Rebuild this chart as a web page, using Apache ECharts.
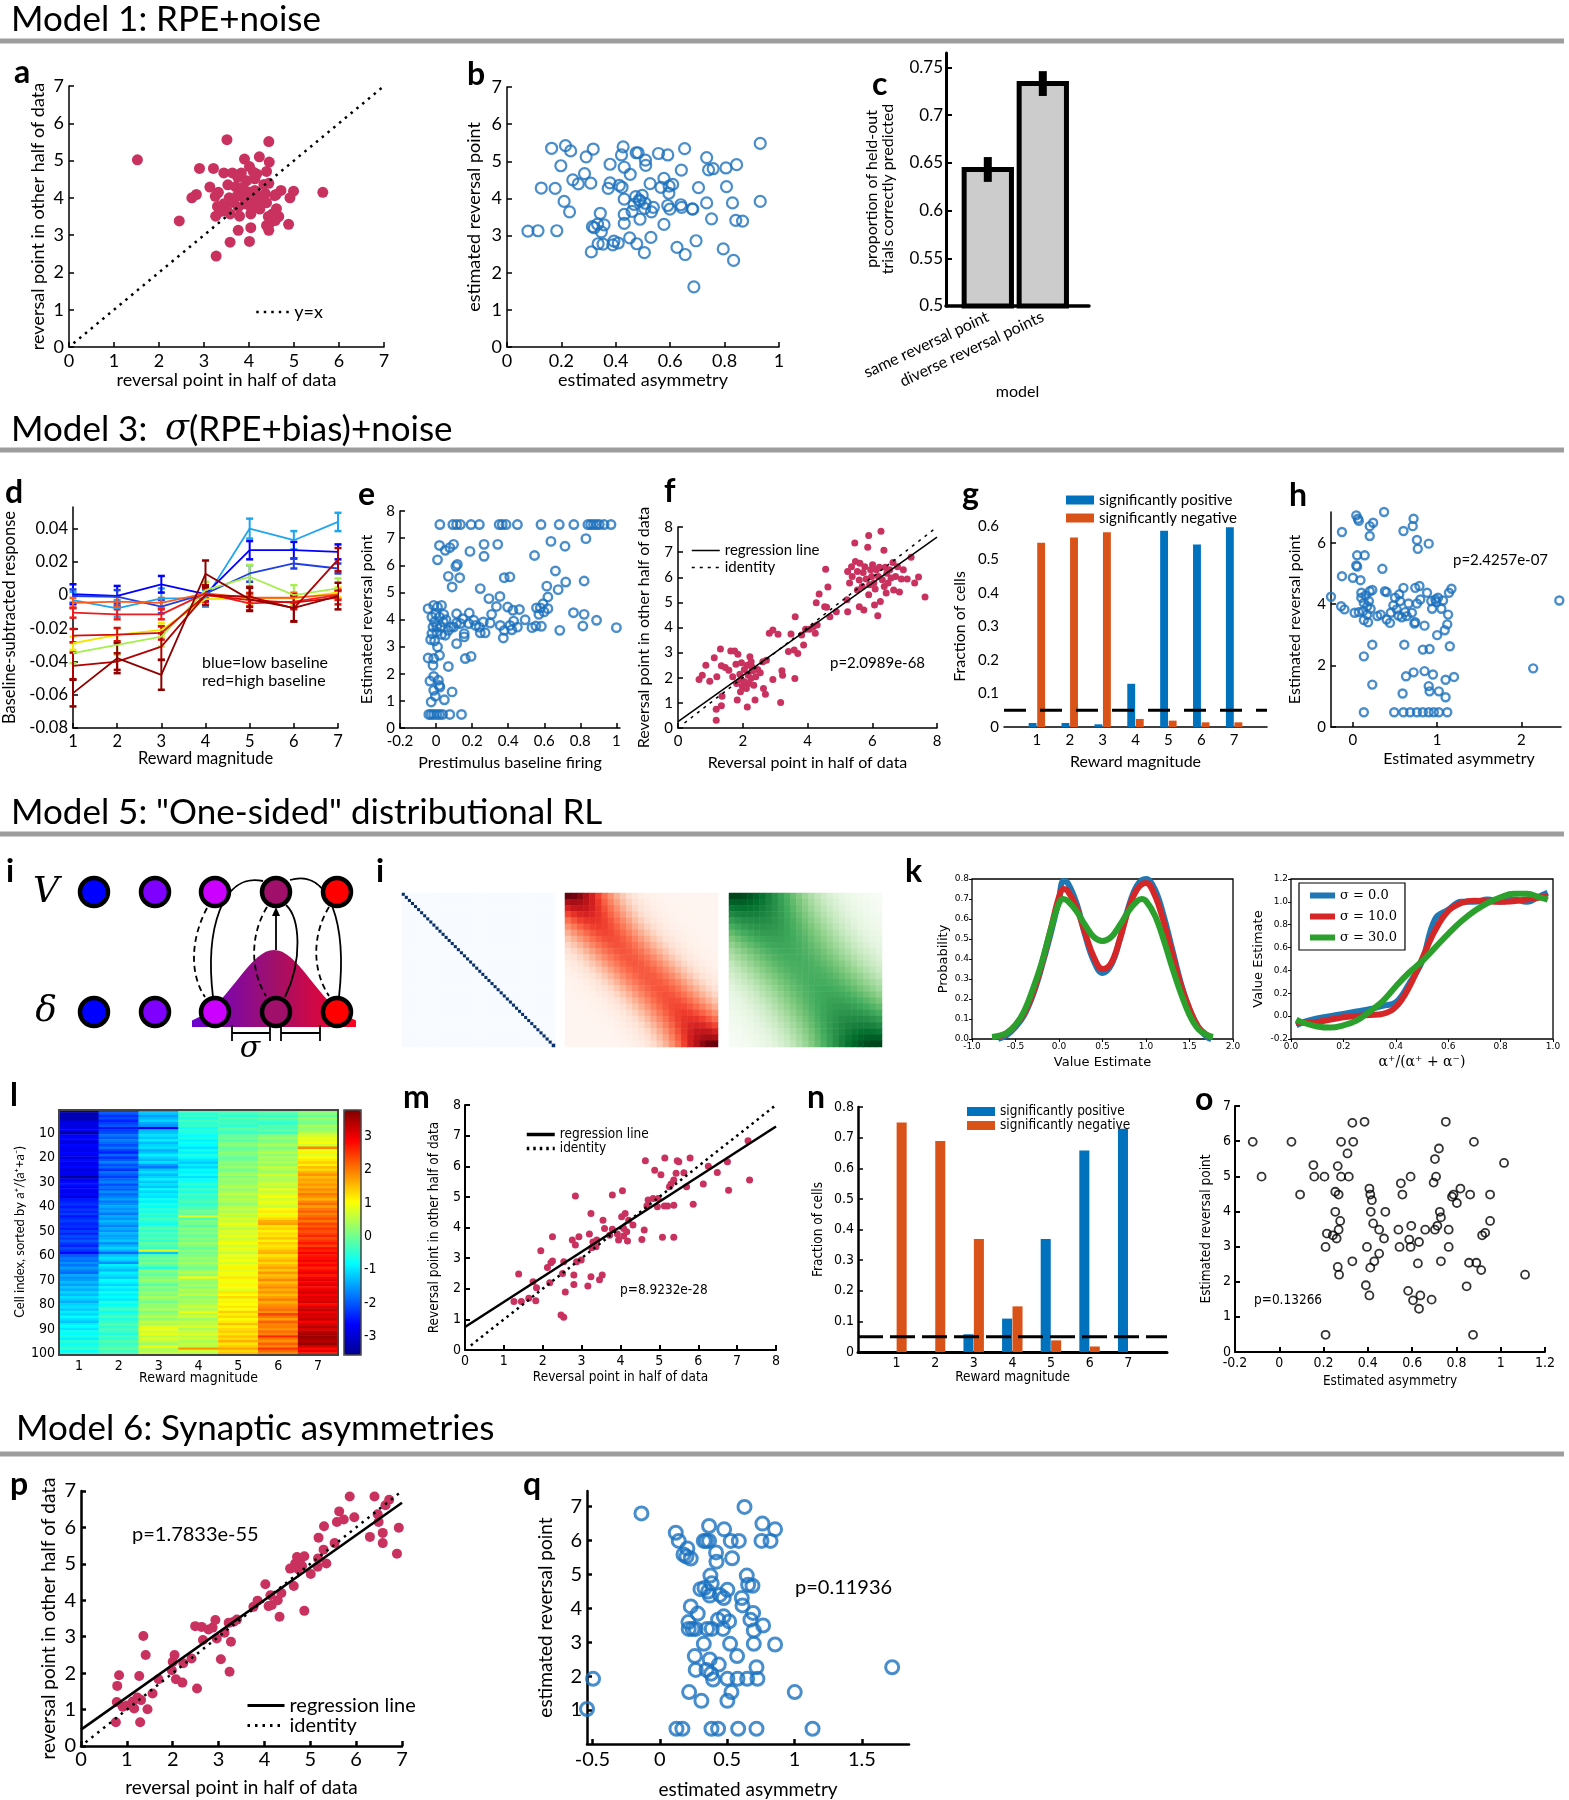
<!DOCTYPE html>
<html>
<head>
<meta charset="utf-8">
<title>Figure</title>
<script src="https://cdn.jsdelivr.net/npm/echarts@6.0.0/dist/echarts.min.js"></script>
<style>
html,body{margin:0;padding:0;background:#ffffff;}
#chart{width:1569px;height:1800px;}
</style>
</head>
<body>
<div id="chart"></div>
<script>
// ================= DATA =================
// Panel a
const aPoints = [[1.52,5.02],[3.51,5.56],[4.44,5.51],[3.90,5.04],[4.23,5.10],[4.45,4.96],[4.01,4.84],[2.90,4.79],[3.21,4.79],[3.44,4.67],[3.63,4.67],[3.83,4.67],[3.75,4.55],[4.17,4.64],[4.39,4.71],[3.13,4.29],[3.53,4.35],[3.32,4.15],[3.70,4.30],[3.95,4.46],[4.13,4.51],[4.33,4.36],[4.44,4.39],[2.73,4.00],[2.83,4.09],[3.25,4.04],[3.87,4.29],[4.01,4.15],[3.81,4.13],[4.13,4.20],[4.36,4.12],[4.60,4.09],[4.71,4.20],[4.99,4.18],[5.64,4.15],[4.91,4.00],[4.57,4.06],[3.56,4.00],[3.65,3.88],[3.44,3.84],[3.30,3.77],[3.91,3.84],[4.04,3.86],[4.24,3.82],[4.39,3.87],[3.76,3.75],[4.04,3.75],[4.24,3.70],[3.58,3.57],[3.26,3.51],[3.79,3.51],[4.04,3.57],[4.61,3.71],[4.52,3.57],[4.66,3.50],[4.43,3.50],[4.58,3.39],[4.45,3.30],[4.39,3.26],[4.88,3.29],[2.45,3.38],[4.44,3.13],[4.04,3.20],[3.76,3.13],[3.58,2.81],[4.01,2.83],[3.27,2.44],[3.50,3.71],[3.39,3.64],[3.87,4.02],[3.94,3.95],[4.17,3.97],[4.31,4.02],[3.73,4.04],[4.10,4.69]];
const aIdentity = [[0.1,0.1],[7,7]];
// Panel b
const bPoints = [[0.077,3.12],[0.114,3.13],[0.183,3.13],[0.126,4.28],[0.177,4.27],[0.164,5.35],[0.215,5.42],[0.234,5.28],[0.198,4.88],[0.210,3.92],[0.230,3.64],[0.242,4.50],[0.262,4.39],[0.285,4.67],[0.308,4.41],[0.291,5.12],[0.317,5.33],[0.310,2.56],[0.314,3.24],[0.321,3.21],[0.347,3.10],[0.333,3.31],[0.343,3.60],[0.357,3.29],[0.335,2.78],[0.353,2.77],[0.372,4.27],[0.379,4.42],[0.379,4.92],[0.393,2.85],[0.389,2.75],[0.409,2.80],[0.413,4.35],[0.423,4.30],[0.421,5.17],[0.427,5.39],[0.431,4.84],[0.431,3.98],[0.431,3.57],[0.431,3.33],[0.453,4.65],[0.451,2.94],[0.460,3.65],[0.467,3.84],[0.475,5.23],[0.482,5.23],[0.473,4.05],[0.477,2.78],[0.486,3.96],[0.489,3.44],[0.497,4.08],[0.489,3.93],[0.508,3.87],[0.509,5.03],[0.510,4.89],[0.505,2.54],[0.506,3.73],[0.526,4.40],[0.529,2.95],[0.531,3.64],[0.538,3.76],[0.557,5.21],[0.566,4.30],[0.577,4.54],[0.577,3.30],[0.591,5.17],[0.596,4.33],[0.595,4.14],[0.591,3.81],[0.599,3.71],[0.609,4.38],[0.625,2.68],[0.641,4.76],[0.639,3.83],[0.642,3.76],[0.653,5.34],[0.655,2.49],[0.681,3.72],[0.683,3.71],[0.687,1.62],[0.695,2.86],[0.704,4.29],[0.734,5.10],[0.734,3.88],[0.741,4.77],[0.752,3.45],[0.758,4.80],[0.795,2.64],[0.805,4.82],[0.807,4.32],[0.829,3.88],[0.833,2.33],[0.841,3.41],[0.844,4.91],[0.866,3.39],[0.931,5.48],[0.931,3.92]];
// Panel c
const cModels = ['same reversal point', 'diverse reversal points'];
const cMeans = [0.643, 0.733];
const cErr = [0.013, 0.013];
const cTicks = [0.5, 0.55, 0.6, 0.65, 0.7, 0.75];
// Panel d
const dRewards = [1, 2, 3, 4, 5, 6, 7];
const dMeans = [
  [-0.003,-0.008,-0.002,-0.002,0.040,0.033,0.044],
  [0.0005,-0.0005,0.0065,0.0005,0.027,0.027,0.026],
  [-0.0006,-0.001,-0.007,0.0008,0.013,0.019,0.016],
  [-0.035,-0.030,-0.025,0.003,0.011,0.000,0.004],
  [-0.029,-0.024,-0.021,-0.0025,-0.002,-0.002,0.0016],
  [-0.0047,-0.004,-0.0047,0.001,-0.0016,-0.0016,0.0004],
  [-0.0106,-0.0116,-0.0116,0.001,-0.005,-0.004,0.0],
  [-0.0244,-0.0238,-0.0228,0.0,-0.003,-0.0045,-0.0016],
  [-0.0426,-0.040,-0.031,0.0,-0.001,-0.008,0.0213],
  [-0.059,-0.038,-0.048,0.0128,-0.0026,-0.0077,-0.0006]
];
const dErrs = [
  [0.005,0.005,0.006,0.005,0.006,0.0055,0.0055],
  [0.006,0.006,0.005,0.004,0.0055,0.005,0.0045],
  [0.004,0.004,0.004,0.003,0.005,0.003,0.003],
  [0.006,0.006,0.006,0.005,0.007,0.006,0.006],
  [0.004,0.004,0.004,0.003,0.003,0.003,0.003],
  [0.003,0.003,0.003,0.003,0.003,0.003,0.003],
  [0.003,0.003,0.003,0.003,0.004,0.004,0.003],
  [0.004,0.004,0.004,0.004,0.004,0.004,0.004],
  [0.008,0.005,0.008,0.006,0.006,0.008,0.007],
  [0.008,0.009,0.009,0.008,0.007,0.008,0.008]
];
const dTicks = [-0.08,-0.06,-0.04,-0.02,0,0.02,0.04];
// Panel e
const ePoints = [[0.021,7.5],[0.093,7.5],[0.114,7.5],[0.135,7.5],[0.194,7.5],[0.240,7.5],[0.350,7.5],[0.367,7.5],[0.388,7.5],[0.451,7.5],[0.582,7.5],[0.683,7.5],[0.764,7.5],[0.842,7.5],[0.857,7.5],[0.873,7.5],[0.890,7.5],[0.905,7.5],[0.932,7.5],[0.970,7.5],[1.027,7.5],[-0.040,0.5],[-0.027,0.5],[-0.013,0.5],[0.004,0.5],[0.019,0.5],[0.036,0.5],[0.076,0.5],[0.141,0.5],[0.019,6.73],[0.008,6.20],[0.051,6.55],[0.076,6.65],[0.097,6.77],[0.110,5.96],[0.118,6.03],[0.068,5.59],[0.089,5.20],[0.131,5.54],[0.188,6.51],[0.266,6.77],[0.266,6.33],[0.342,6.77],[0.546,6.36],[0.637,6.88],[0.715,6.70],[0.831,6.98],[0.662,5.79],[0.719,5.38],[0.378,5.54],[0.409,5.57],[0.245,5.14],[0.293,4.77],[0.354,4.85],[0.335,4.48],[0.397,4.46],[0.426,4.34],[0.462,4.37],[0.614,5.23],[0.620,4.83],[0.677,5.10],[0.821,5.42],[1.021,5.83],[0.762,4.25],[0.821,4.19],[0.890,3.97],[0.814,3.76],[1.000,3.70],[0.686,3.60],[0.557,4.43],[0.578,4.43],[0.599,4.28],[0.620,4.40],[0.593,4.58],[0.570,4.19],[0.584,3.75],[0.532,3.70],[0.553,3.76],[0.494,3.99],[0.430,3.94],[0.409,3.78],[0.378,3.60],[0.373,3.32],[0.356,3.78],[0.420,3.62],[0.451,3.72],[0.308,4.19],[0.300,3.87],[0.262,3.91],[0.240,3.72],[0.219,3.78],[0.245,3.51],[0.272,3.51],[0.209,3.97],[0.181,3.85],[0.148,4.03],[0.135,3.85],[0.114,3.87],[0.097,3.72],[0.114,4.21],[0.184,4.24],[0.156,3.48],[0.156,3.36],[0.162,2.56],[0.194,2.64],[0.114,3.11],[0.068,3.60],[0.082,3.72],[0.051,3.42],[0.004,3.75],[-0.017,3.72],[-0.044,4.40],[-0.023,4.09],[-0.013,4.52],[0.008,4.46],[0.030,4.52],[-0.002,4.21],[0.019,4.09],[0.040,3.91],[-0.008,3.91],[0.025,3.72],[-0.023,3.48],[0.004,3.54],[0.030,3.45],[-0.030,3.26],[-0.008,3.21],[0.008,2.99],[-0.044,2.58],[-0.013,2.56],[0.019,2.68],[-0.017,2.31],[0.068,2.27],[-0.034,1.73],[-0.013,1.90],[0.013,1.76],[0.021,1.51],[-0.013,1.39],[-0.004,1.17],[-0.027,0.96],[0.046,1.04],[0.089,1.33],[0.017,1.57],[0.042,4.19],[0.055,3.99]];
const eXTicks = [-0.2,0,0.2,0.4,0.6,0.8,1];
// Panel f
const fPoints = [[0.65,1.93],[0.75,2.10],[0.86,2.50],[0.98,1.86],[1.12,2.80],[1.20,2.04],[1.18,0.31],[1.18,0.75],[1.31,3.14],[1.34,2.48],[1.36,1.26],[1.34,0.89],[1.46,2.41],[1.57,2.30],[1.63,3.06],[1.69,2.04],[1.75,3.06],[1.83,1.11],[1.85,2.94],[1.79,2.54],[1.91,2.14],[1.95,1.93],[1.99,1.66],[2.05,2.33],[2.07,1.64],[2.14,0.84],[2.17,2.10],[2.22,2.84],[2.26,2.64],[2.28,2.44],[2.31,2.28],[2.25,1.97],[2.19,1.77],[2.34,1.70],[2.38,1.11],[2.40,2.04],[2.46,2.33],[2.54,2.20],[2.64,1.57],[2.70,1.34],[2.62,2.64],[2.73,2.70],[2.11,1.57],[2.05,1.84],[1.93,1.44],[1.81,1.77],[2.14,2.50],[1.96,2.60],[3.17,1.01],[2.93,1.93],[3.21,2.28],[3.23,2.10],[3.61,1.97],[2.82,3.77],[2.93,3.90],[3.09,3.73],[3.41,3.04],[3.49,3.74],[3.59,3.10],[3.62,4.43],[3.70,2.97],[3.82,3.70],[3.88,3.30],[3.94,3.93],[4.06,3.93],[4.18,4.03],[4.24,3.77],[4.30,4.10],[4.36,5.33],[4.27,4.99],[4.53,4.83],[4.56,6.32],[4.63,5.61],[4.59,4.81],[4.69,4.43],[4.89,4.63],[5.22,5.10],[5.24,4.63],[5.24,6.23],[5.30,5.77],[5.36,6.42],[5.38,6.03],[5.46,7.36],[5.48,6.63],[5.54,5.49],[5.54,6.23],[5.60,5.89],[5.62,6.56],[5.69,5.63],[5.72,6.19],[5.74,4.70],[5.77,6.42],[5.81,5.93],[5.86,7.19],[5.89,7.66],[5.92,5.70],[5.95,6.30],[5.98,6.03],[6.01,6.50],[6.05,5.77],[6.09,5.53],[6.13,6.30],[6.17,4.47],[6.19,6.03],[6.22,6.40],[6.25,5.03],[6.27,7.83],[6.31,5.90],[6.36,7.07],[6.37,5.63],[6.40,6.40],[6.43,5.37],[6.45,6.16],[6.49,5.77],[6.54,6.30],[6.58,5.97],[6.64,6.59],[6.66,5.49],[6.72,6.03],[6.84,5.41],[6.90,5.93],[7.08,5.93],[7.20,6.80],[7.31,5.77],[7.43,6.01],[7.63,5.21],[6.96,6.30],[6.78,6.42],[6.07,4.90],[5.60,4.83],[5.89,5.30]];
const fRegression = [[0,0.25],[8,7.6]];
const fIdentity = [[0.2,0.2],[7.9,7.9]];
// Panel g
const gRewards = [1,2,3,4,5,6,7];
const gPositive = [0.012,0.012,0.008,0.129,0.586,0.545,0.596];
const gNegative = [0.550,0.566,0.581,0.024,0.019,0.014,0.014];
const gThreshold = [[0,0.05],[8,0.05]];
// Panel h
const hPoints = [[-0.26,4.24],[-0.13,4.91],[-0.14,3.93],[-0.10,3.83],[-0.13,6.35],[0.00,4.86],[0.04,6.89],[0.06,6.78],[0.07,6.71],[0.05,5.59],[0.04,5.26],[0.05,5.22],[0.09,4.78],[0.14,5.59],[0.10,4.37],[0.10,4.21],[0.02,3.72],[0.07,3.74],[0.12,3.77],[0.13,4.04],[0.17,3.93],[0.19,4.10],[0.15,4.28],[0.20,4.42],[0.23,4.46],[0.17,3.66],[0.13,3.48],[0.18,3.41],[0.21,3.85],[0.20,6.54],[0.24,6.65],[0.20,6.22],[0.13,2.30],[0.23,2.68],[0.23,1.38],[0.13,0.48],[0.29,3.61],[0.35,5.15],[0.37,7.00],[0.38,4.42],[0.40,4.39],[0.33,3.66],[0.40,3.50],[0.44,3.39],[0.45,3.72],[0.48,3.96],[0.50,4.21],[0.49,0.48],[0.52,3.83],[0.54,3.63],[0.56,4.10],[0.55,4.32],[0.58,3.57],[0.60,4.53],[0.60,6.38],[0.62,3.74],[0.64,3.61],[0.61,2.68],[0.63,1.65],[0.59,1.09],[0.60,0.48],[0.66,4.02],[0.68,0.48],[0.70,3.72],[0.71,6.54],[0.72,6.78],[0.74,3.41],[0.73,3.37],[0.74,4.53],[0.76,6.09],[0.77,5.80],[0.76,4.02],[0.72,1.78],[0.76,0.48],[0.79,4.59],[0.80,4.15],[0.83,2.52],[0.85,3.30],[0.85,1.82],[0.83,0.48],[0.88,4.37],[0.90,5.97],[0.91,2.54],[0.93,4.10],[0.94,3.85],[0.90,1.33],[0.91,1.16],[0.95,1.71],[0.90,0.48],[0.98,4.15],[0.99,4.07],[1.01,4.21],[1.00,2.99],[1.02,1.16],[0.96,0.48],[1.02,0.48],[1.05,3.85],[1.07,4.12],[1.09,3.15],[1.10,0.97],[1.10,1.54],[1.12,0.48],[1.12,3.34],[1.13,3.66],[1.14,4.37],[1.17,4.50],[1.15,2.63],[1.20,1.63],[2.14,1.91],[2.45,4.12]];
// Panel j (kernel profiles by distance from the diagonal)
const jBluesProfile = [1,0,0,0,0,0,0,0,0,0,0,0,0,0,0,0,0,0,0,0,0,0,0,0,0,0,0,0,0,0,0,0,0,0,0,0,0,0,0,0,0,0,0,0,0,0,0,0,0,0];
const jRedsProfile = [1,0.98,0.923,0.835,0.726,0.607,0.487,0.375,0.278,0.198,0.135,0.089,0.056,0.034,0.020,0.011,0.006,0.003,0.002,0.001,0,0,0,0,0];
const jGreensProfile = [1,0.994,0.976,0.946,0.906,0.857,0.801,0.739,0.673,0.607,0.540,0.474,0.411,0.352,0.298,0.249,0.206,0.168,0.135,0.108,0.085,0.066,0.050,0.038,0.029];
// Panel k
const kSigmaNames = ['σ = 0.0', 'σ = 10.0', 'σ = 30.0'];
const k1Blue = [[-0.7,0.0],[-0.6,0.02],[-0.5,0.06],[-0.4,0.12],[-0.3,0.22],[-0.2,0.36],[-0.1,0.52],[0.0,0.70],[0.05,0.79],[0.1,0.78],[0.2,0.68],[0.3,0.52],[0.4,0.39],[0.5,0.33],[0.6,0.37],[0.7,0.50],[0.8,0.66],[0.9,0.77],[1.0,0.80],[1.1,0.75],[1.2,0.62],[1.3,0.45],[1.4,0.28],[1.5,0.15],[1.6,0.06],[1.7,0.01],[1.75,0.0]];
const k1Red = [[-0.7,0.01],[-0.6,0.03],[-0.5,0.07],[-0.4,0.13],[-0.3,0.23],[-0.2,0.37],[-0.1,0.54],[0.0,0.71],[0.05,0.75],[0.1,0.74],[0.2,0.66],[0.3,0.53],[0.4,0.41],[0.5,0.35],[0.6,0.38],[0.7,0.50],[0.8,0.65],[0.9,0.75],[1.0,0.78],[1.1,0.72],[1.2,0.59],[1.3,0.43],[1.4,0.27],[1.5,0.15],[1.6,0.06],[1.7,0.02],[1.75,0.01]];
const k1Green = [[-0.77,0.01],[-0.7,0.015],[-0.6,0.03],[-0.5,0.07],[-0.4,0.14],[-0.3,0.25],[-0.2,0.38],[-0.1,0.54],[0.0,0.68],[0.05,0.70],[0.1,0.69],[0.2,0.64],[0.3,0.57],[0.4,0.51],[0.5,0.49],[0.6,0.51],[0.7,0.57],[0.8,0.64],[0.9,0.69],[0.95,0.70],[1.0,0.69],[1.1,0.62],[1.2,0.50],[1.3,0.36],[1.4,0.23],[1.5,0.12],[1.6,0.05],[1.7,0.02],[1.77,0.01]];
const k2Blue = [[0.02,-0.08],[0.05,-0.05],[0.1,-0.02],[0.15,0.0],[0.2,0.02],[0.25,0.04],[0.3,0.06],[0.35,0.09],[0.4,0.12],[0.45,0.28],[0.5,0.48],[0.55,0.85],[0.6,0.93],[0.65,1.0],[0.7,1.0],[0.75,1.02],[0.8,1.0],[0.85,1.02],[0.9,1.0],[0.95,1.05],[0.98,1.08]];
const k2Red = [[0.02,-0.06],[0.1,-0.05],[0.2,-0.01],[0.3,0.01],[0.35,0.02],[0.4,0.08],[0.45,0.25],[0.5,0.5],[0.55,0.75],[0.6,0.92],[0.65,0.99],[0.7,1.01],[0.8,1.0],[0.9,1.02],[0.98,1.05]];
const k2Green = [[0.02,-0.03],[0.05,-0.06],[0.1,-0.09],[0.15,-0.1],[0.2,-0.08],[0.25,-0.04],[0.3,0.04],[0.35,0.13],[0.4,0.26],[0.45,0.38],[0.5,0.48],[0.55,0.6],[0.6,0.72],[0.65,0.83],[0.7,0.92],[0.75,0.99],[0.8,1.04],[0.85,1.07],[0.9,1.07],[0.95,1.04],[0.98,1.02]];
// Panel l (z-scored responses; rows = cells 1..100, columns = reward magnitude 1..7)
const lRewards = ['1','2','3','4','5','6','7'];
const lCol1 = [-3.3,-3.3,-3.2,-3.3,-3.1,-2.8,-2.9,-2.7,-2.8,-3.4,-2.7,-2.6,-2.8,-2.9,-2.6,-2.7,-2.8,-2.6,-2.7,-2.9,-2.6,-2.8,-2.7,-2.6,-2.9,-2.7,-2.8,-3.4,-2.8,-2.6,-2.5,-2.7,-2.6,-2.8,-2.6,-2.9,-2.5,-2.4,-2.3,-2.5,-2.3,-2.4,-2.2,-2.5,-2.3,-2.2,-2.4,-2.3,-2.5,-2.2,-2.4,-2.1,-2.3,-2.0,-2.2,-2.4,-2.1,-2.3,-2.6,-2.0,-1.8,-1.9,-1.6,-1.8,-1.5,-1.7,-1.9,-1.4,-1.6,-1.5,-1.3,-1.5,-1.2,-1.4,-1.1,-1.3,-1.0,-1.2,-1.4,-1.1,-1.0,-1.2,-0.9,-1.1,-0.8,-1.0,-1.2,-0.9,-0.8,-1.0,-0.7,-0.8,-0.6,-0.9,-0.5,-0.7,-0.6,-0.4,-0.8,-0.6];
const lCol2 = [-2.2,-2.0,-2.3,-2.1,-2.4,-2.2,-2.0,-2.5,-2.2,-2.1,-1.8,-2.0,-1.7,-1.9,-2.1,-1.8,-2.2,-2.4,-1.9,-2.3,-2.0,-1.7,-2.1,-1.9,-2.3,-1.8,-2.0,-2.2,-1.9,-1.7,-2.1,-1.8,-2.0,-1.6,-1.9,-1.7,-1.5,-1.8,-1.6,-1.4,-1.6,-1.5,-1.8,-1.4,-1.6,-1.3,-1.5,-1.7,-1.4,-1.6,-1.3,-1.5,-1.4,-1.2,-1.6,-1.3,-1.1,-1.4,-1.9,-1.2,-1.0,-1.2,-1.6,-0.9,-1.1,-1.3,-0.9,-1.0,-1.2,-0.8,-0.9,-1.1,-0.8,-1.0,-0.7,-0.9,-0.8,-1.0,-0.6,-0.8,-0.6,-0.4,-0.7,-0.5,-0.3,-0.6,-0.4,-0.2,-0.5,-0.3,-0.4,-0.6,-0.3,-0.5,-0.2,-0.4,-0.3,-0.1,-0.4,-0.3];
const lCol3 = [-1.4,-1.2,-1.5,-1.3,-1.1,-1.4,-1.6,-2.7,-1.3,-1.2,-1.0,-1.2,-0.9,-1.3,-1.1,-1.0,-1.4,-1.2,-0.9,-1.1,-1.3,-1.0,-1.5,-1.8,-1.2,-1.0,-1.3,-1.1,-0.9,-1.2,-1.0,-1.2,-0.8,-1.1,-0.9,-1.0,-0.7,-0.9,-0.6,-0.8,-0.5,-0.7,-0.4,-0.6,-0.3,-0.5,-0.7,-0.4,-0.2,-0.5,-0.3,-0.4,-0.2,-0.5,-0.1,-0.3,-0.4,0.9,-1.2,-0.2,0.0,-0.2,0.1,-0.1,-0.6,0.2,0.0,-0.1,0.1,0.3,0.1,-0.2,0.2,0.0,0.3,0.1,0.4,0.2,0.0,0.3,0.2,0.4,0.1,0.3,0.5,0.2,0.6,0.4,0.8,0.9,0.7,0.9,0.5,0.8,0.6,0.3,0.9,0.5,0.4,0.6];
const lCol4 = [-0.3,-0.5,-0.4,-0.6,-0.3,-0.5,-0.4,-0.7,-0.5,-0.6,-0.8,-0.6,-0.9,-0.7,-0.8,-1.0,-0.7,-0.9,-0.6,-0.8,-1.0,-1.2,-0.9,-1.1,-0.8,-0.9,-0.7,-1.0,-0.8,-0.6,-0.5,-0.7,-0.4,-0.6,-0.3,-0.5,-0.4,-0.2,-0.5,-0.3,-0.2,0.0,-0.1,0.8,-0.3,0.1,0.0,-0.2,0.2,0.0,0.1,-0.1,0.2,0.0,0.3,0.1,-0.1,0.2,0.0,0.1,0.3,0.1,0.4,0.2,0.0,0.3,0.5,0.2,0.9,0.3,0.2,0.4,0.1,0.5,0.3,0.6,0.2,0.4,0.3,0.5,0.6,0.4,0.9,0.5,0.7,0.3,0.6,0.5,0.8,0.4,0.6,0.8,0.5,0.7,0.4,0.6,0.5,1.8,0.7,0.5];
const lCol5 = [-0.4,-0.3,-0.5,-0.2,-0.4,-0.3,-0.5,-0.1,-0.3,-0.4,-0.1,0.0,-0.2,0.1,0.2,-0.1,0.0,0.2,0.1,-0.1,0.0,0.2,0.1,0.3,0.0,0.2,0.4,0.1,0.3,0.2,0.3,0.5,0.2,0.4,0.6,0.3,0.5,0.4,0.2,0.5,0.6,0.4,0.7,0.5,0.8,0.6,0.9,0.7,0.5,0.8,0.7,0.9,0.6,0.8,1.0,0.7,0.9,0.8,0.6,0.9,0.8,1.0,0.7,0.9,1.1,0.8,1.0,0.9,1.2,1.0,0.9,1.1,1.0,0.8,1.2,1.0,1.3,0.9,1.1,1.0,1.2,1.0,1.4,1.1,1.3,1.0,1.2,1.5,1.1,1.3,1.4,1.2,1.5,1.3,1.6,1.2,1.4,1.7,1.3,1.5];
const lCol6 = [-0.3,-0.2,-0.4,-0.1,-0.3,-0.5,-0.2,-0.3,-0.1,-0.4,0.1,0.3,0.0,0.2,0.4,0.1,0.3,0.5,0.2,0.4,0.3,0.5,0.2,0.6,0.4,0.3,0.7,0.5,0.4,0.6,0.7,0.5,0.9,0.6,0.8,1.0,0.7,0.9,0.8,0.6,1.0,1.2,0.9,1.1,1.3,1.6,1.7,1.2,1.4,1.1,1.3,1.2,1.5,1.1,1.4,1.2,1.3,1.5,1.6,1.2,1.4,1.6,1.3,1.5,1.7,1.4,1.8,1.5,1.6,1.9,1.5,1.7,1.9,1.6,1.8,1.5,1.7,2.0,1.6,1.8,1.9,2.1,1.8,2.4,2.0,1.7,2.2,1.9,2.0,1.8,2.1,1.9,2.6,2.0,1.8,2.2,1.9,2.5,2.1,1.9];
const lCol7 = [0.0,0.2,-0.1,0.3,0.1,0.0,0.4,0.2,0.3,0.5,0.7,0.9,0.8,1.0,0.7,1.9,0.9,1.1,0.8,1.0,1.2,1.4,1.1,1.5,1.3,1.6,1.8,1.5,1.7,1.6,1.8,1.6,1.9,1.7,2.0,1.8,1.6,1.9,2.1,1.7,2.0,2.2,1.9,2.1,2.3,2.0,2.4,2.2,2.5,2.3,2.4,2.6,2.3,2.5,2.7,2.4,2.8,2.6,2.9,2.7,2.8,3.0,2.7,2.9,2.6,2.8,3.0,2.7,2.9,3.1,2.9,3.1,2.8,3.0,3.2,2.9,3.1,3.0,3.2,2.8,3.1,3.3,3.0,3.2,3.1,3.3,2.9,3.2,3.4,3.1,3.3,3.5,3.6,3.5,3.4,3.6,3.2,2.8,3.0,2.7];
const lColumns = [lCol1, lCol2, lCol3, lCol4, lCol5, lCol6, lCol7];
const lRange = [-3.55, 3.78];
const lBarTicks = [-3,-2,-1,0,1,2,3];
// Panel m
const mPoints = [[1.26,1.58],[1.38,2.48],[1.45,1.58],[1.64,1.69],[1.75,2.23],[1.82,1.61],[1.84,2.03],[1.95,3.24],[2.12,2.69],[2.18,2.20],[2.25,3.70],[2.21,2.85],[2.25,2.91],[2.47,1.14],[2.54,1.07],[2.51,2.50],[2.54,2.88],[2.58,1.89],[2.76,3.59],[2.80,2.45],[2.80,2.14],[2.84,5.03],[2.84,3.43],[2.87,2.88],[2.93,3.70],[2.99,2.94],[3.16,2.09],[3.20,3.79],[3.24,4.46],[3.24,2.39],[3.26,3.34],[3.29,3.53],[3.37,3.37],[3.39,3.59],[3.46,2.29],[3.53,2.45],[3.55,4.24],[3.59,3.97],[3.72,3.75],[3.79,5.06],[3.79,3.94],[3.92,3.79],[3.95,3.59],[4.03,4.35],[4.05,5.20],[4.08,3.97],[4.08,3.72],[4.12,4.46],[4.16,3.86],[4.18,3.56],[4.21,4.24],[4.32,4.08],[4.55,3.61],[4.61,3.92],[4.64,6.18],[4.68,4.71],[4.84,4.95],[4.88,5.87],[4.95,4.68],[4.97,4.95],[5.04,5.72],[5.08,3.68],[5.13,4.70],[5.14,6.27],[5.21,4.70],[5.30,5.42],[5.37,3.68],[5.37,4.73],[5.37,5.55],[5.43,5.77],[5.46,6.18],[5.50,6.15],[5.63,5.79],[5.70,5.33],[5.79,6.27],[5.87,4.76],[6.13,5.42],[6.26,6.00],[6.49,5.80],[6.75,6.15],[6.78,5.22],[7.28,6.83],[7.32,5.55],[5.26,5.33],[4.71,4.90]];
const mRegression = [[0,0.75],[8,7.3]];
const mIdentity = [[0.15,0.15],[8,8]];
// Panel n
const nRewards = [1,2,3,4,5,6,7];
const nPositive = [0,0,0.058,0.109,0.369,0.658,0.729];
const nNegative = [0.749,0.689,0.369,0.149,0.038,0.018,0];
const nThreshold = [[0,0.05],[8,0.05]];
// Panel o
const oPoints = [[-0.12,5.98],[-0.08,4.99],[0.055,5.98],[0.094,4.48],[0.154,5.32],[0.158,4.99],[0.204,4.99],[0.209,2.99],[0.215,3.37],[0.209,0.49],[0.242,3.32],[0.253,3.99],[0.253,4.56],[0.259,3.23],[0.264,5.29],[0.268,4.48],[0.268,3.48],[0.264,2.42],[0.270,2.20],[0.275,3.73],[0.279,4.99],[0.279,5.98],[0.308,5.65],[0.314,4.99],[0.330,6.52],[0.334,5.98],[0.330,2.58],[0.385,6.55],[0.396,2.99],[0.391,1.90],[0.407,4.65],[0.411,4.48],[0.418,4.32],[0.413,3.99],[0.407,1.61],[0.411,2.40],[0.424,3.66],[0.429,2.58],[0.451,3.48],[0.451,2.80],[0.473,3.23],[0.479,3.99],[0.538,3.48],[0.543,2.99],[0.549,4.80],[0.556,4.48],[0.582,1.74],[0.587,3.20],[0.593,2.99],[0.593,4.99],[0.596,3.59],[0.604,1.47],[0.626,2.52],[0.631,1.23],[0.637,1.61],[0.631,3.13],[0.659,3.48],[0.688,1.49],[0.697,4.82],[0.703,5.49],[0.708,4.99],[0.703,3.48],[0.714,3.59],[0.721,5.79],[0.725,3.99],[0.730,3.83],[0.730,2.58],[0.752,6.55],[0.765,3.48],[0.765,2.99],[0.780,4.42],[0.787,4.48],[0.802,4.24],[0.818,4.65],[0.846,1.87],[0.857,2.54],[0.862,4.48],[0.879,5.98],[0.875,0.49],[0.890,2.54],[0.912,2.33],[0.916,3.32],[0.930,3.39],[0.952,4.48],[0.952,3.73],[1.015,5.38],[1.110,2.20]];
// Panel p
const pPoints = [[0.76,0.65],[0.78,1.21],[0.79,1.65],[0.83,1.94],[0.91,1.08],[1.00,1.11],[1.13,1.22],[1.16,1.03],[1.23,1.33],[1.27,1.92],[1.29,0.65],[1.31,1.26],[1.36,3.02],[1.41,2.50],[1.45,1.01],[1.56,1.44],[1.69,1.83],[1.98,2.08],[2.00,2.31],[2.04,2.50],[2.07,1.83],[2.21,1.74],[2.23,2.27],[2.41,2.40],[2.49,3.29],[2.53,1.58],[2.63,3.27],[2.66,2.91],[2.78,3.20],[2.87,3.25],[2.93,3.46],[2.96,2.95],[3.05,2.38],[3.13,3.11],[3.22,3.38],[3.24,2.04],[3.27,2.86],[3.33,3.41],[3.40,3.47],[3.76,3.82],[3.85,3.99],[4.02,4.44],[4.09,3.84],[4.13,4.14],[4.16,3.87],[4.29,4.00],[4.33,3.55],[4.37,4.20],[4.56,4.87],[4.64,4.39],[4.67,5.01],[4.71,5.19],[4.73,4.87],[4.77,5.05],[4.82,4.94],[4.87,5.21],[4.87,3.71],[5.01,4.72],[5.16,4.92],[5.17,5.15],[5.18,5.72],[5.29,5.39],[5.30,6.03],[5.35,5.01],[5.53,5.57],[5.58,6.15],[5.63,6.44],[5.73,6.22],[5.86,6.85],[5.96,6.28],[6.30,5.74],[6.40,6.85],[6.47,6.36],[6.49,6.15],[6.58,5.85],[6.58,5.57],[6.64,6.61],[6.72,6.76],[6.89,5.28],[6.93,5.99]];
const pRegression = [[0,0.45],[7,6.68]];
const pIdentity = [[0.1,0.1],[7,7]];
// Panel q
const qPoints = [[-0.136,6.79],[0.119,6.22],[0.141,5.98],[0.205,5.76],[0.176,5.58],[0.198,5.52],[0.230,5.46],[0.327,5.98],[0.344,5.98],[0.366,5.98],[0.366,6.42],[0.418,5.64],[0.421,5.37],[0.478,6.32],[0.527,5.98],[0.537,5.47],[0.587,5.98],[0.629,6.98],[0.762,6.49],[0.755,5.98],[0.822,5.98],[0.856,6.32],[0.376,4.96],[0.302,4.56],[0.332,4.59],[0.359,4.49],[0.386,4.73],[0.371,4.37],[0.446,4.39],[0.475,4.30],[0.502,4.54],[0.646,4.96],[0.656,4.69],[0.688,4.66],[0.609,4.30],[0.614,4.08],[0.230,4.05],[0.282,3.84],[0.213,3.59],[0.215,3.39],[0.243,3.39],[0.267,3.39],[0.351,3.39],[0.386,3.39],[0.470,3.39],[0.433,3.66],[0.475,3.76],[0.515,3.61],[0.693,3.86],[0.673,3.66],[0.698,3.34],[0.767,3.49],[0.327,2.95],[0.522,2.95],[0.698,2.95],[0.856,2.93],[0.260,2.59],[0.371,2.49],[0.574,2.59],[0.438,2.34],[0.267,2.18],[0.347,2.18],[0.381,2.07],[0.396,1.90],[0.502,1.92],[0.577,1.92],[0.649,1.92],[0.725,1.92],[0.718,2.26],[-0.495,1.92],[0.218,1.53],[0.532,1.53],[0.309,1.27],[0.502,1.27],[1.002,1.53],[1.725,2.26],[-0.540,1.03],[0.124,0.45],[0.168,0.45],[0.384,0.45],[0.433,0.45],[0.582,0.45],[0.718,0.45],[1.134,0.45]];
const qXTicks = [-0.5,0,0.5,1,1.5];
const qYTicks = [1,2,3,4,5,6,7];

// ================= STYLE =================
const FA = 'Lato, "Open Sans", sans-serif';
const FN = '"Liberation Sans Narrow","DejaVu Sans Condensed","Roboto Condensed","Liberation Sans",sans-serif';
const FK = '"DejaVu Sans", sans-serif';
const FS = '"DejaVu Serif","Liberation Serif",serif';
const PINK = '#c9315f';
const BLUE = '#1b70bd';
const MBLUE = '#0072bd';
const MORANGE = '#d95319';
const dColors = ['#1ea5f0','#0000ff','#1f3fe6','#a5ef4d','#f2e600','#ff5a1a','#ee1c1c','#d40d0d','#b30000','#8e0000'];
const JET = ['#00008f','#0000ff','#0080ff','#00ffff','#80ff80','#ffff00','#ff8000','#ff0000','#800000'];
const BLUES = ['#f7fbff','#deebf7','#c6dbef','#9ecae1','#6baed6','#4292c6','#2171b5','#08519c','#08306b'];
const REDS = ['#fff5f0','#fee0d2','#fcbba1','#fc9272','#fb6a4a','#ef3b2c','#cb181d','#a50f15','#67000d'];
const GREENS = ['#f7fcf5','#e5f5e0','#c7e9c0','#a1d99b','#74c476','#41ab5d','#238b45','#006d2c','#00441b'];

// ================= BUILDERS =================
const grids = [], xAxes = [], yAxes = [], series = [], visualMaps = [], legends = [], gfx = [];
function addGrid(l, t, w, h, xa, ya, extra) {
  const gi = grids.length;
  grids.push(Object.assign({left: l, top: t, width: w, height: h, containLabel: false}, extra || {}));
  xa.gridIndex = gi; ya.gridIndex = gi;
  xAxes.push(xa); yAxes.push(ya);
  return gi;
}
function valAxis(o) {
  const lw = o.lw != null ? o.lw : 1.5;
  const ax = {
    type: 'value', min: o.min, max: o.max, position: o.pos, show: o.show !== false,
    splitLine: {show: false},
    axisLine: {show: o.line !== false, onZero: false, lineStyle: {color: '#000', width: lw}},
    axisTick: {show: o.tick !== false, inside: !o.outside, length: o.tl != null ? o.tl : 5, lineStyle: {color: '#000', width: o.tw != null ? o.tw : lw}},
    axisLabel: {show: o.label !== false, color: '#000', fontSize: o.fs || 16, fontFamily: o.ff || FA, margin: o.margin != null ? o.margin : 6, hideOverlap: false},
    name: o.name || '', nameLocation: 'middle', nameGap: o.gap != null ? o.gap : 25, nameMoveOverlap: false,
    nameTextStyle: {color: '#000', fontSize: o.nfs || o.fs || 16, fontFamily: o.nff || o.ff || FA, lineHeight: o.nlh, padding: o.npad || 0}
  };
  if (o.fmt) ax.axisLabel.formatter = o.fmt;
  if (o.interval != null) ax.interval = o.interval;
  if (o.cv) { ax.axisLabel.customValues = o.cv; ax.axisTick.customValues = o.cv; }
  if (o.rotate) ax.axisLabel.rotate = o.rotate;
  return ax;
}
function catAxis(o) {
  return {
    type: 'category', data: o.data, inverse: !!o.inverse, show: o.show !== false, boundaryGap: true,
    axisLine: {show: false},
    axisTick: {show: !!o.tick, inside: true, length: 4, interval: o.interval, alignWithLabel: true, lineStyle: {color: '#333'}},
    axisLabel: {show: o.label !== false, interval: o.interval, color: '#000', fontSize: o.fs || 14, fontFamily: o.ff || FN, margin: o.margin != null ? o.margin : 5},
    splitLine: {show: false},
    name: o.name || '', nameLocation: 'middle', nameGap: o.gap || 20, nameMoveOverlap: false,
    nameTextStyle: {color: '#000', fontSize: o.nfs || 14, fontFamily: o.ff || FN}
  };
}
function scatter(gi, data, o) {
  return {type: 'scatter', xAxisIndex: gi, yAxisIndex: gi, data: data, symbol: 'circle', symbolSize: o.size, silent: true, z: 3,
    itemStyle: o.hollow ? {color: 'rgba(0,0,0,0)', borderColor: o.color, borderWidth: o.bw} : {color: o.color, opacity: 1}};
}
function seg(gi, data, name, type, width, color) {
  return {type: 'line', name: name, xAxisIndex: gi, yAxisIndex: gi, data: data, symbol: 'none', silent: true, z: 4,
    lineStyle: {color: color || '#000', width: width, type: type}, itemStyle: {color: color || '#000'}};
}
function barSeries(gi, name, xs, ys, off, halfW, color) {
  return {type: 'custom', name: name, xAxisIndex: gi, yAxisIndex: gi, itemStyle: {color: color}, silent: true, z: 3,
    data: xs.map((x, i) => [x, ys[i]]), encode: {x: 0, y: 1},
    renderItem: (p, api) => {
      const x = api.value(0), y = api.value(1);
      const tl = api.coord([x + off - halfW, y]), br = api.coord([x + off + halfW, 0]);
      return {type: 'rect', shape: {x: tl[0], y: tl[1], width: br[0] - tl[0], height: br[1] - tl[1]}, style: {fill: api.visual('color')}};
    }};
}
function errSeries(gi, xs, ys, es, color) {
  return {type: 'custom', xAxisIndex: gi, yAxisIndex: gi, itemStyle: {color: color}, silent: true, z: 3,
    data: xs.map((x, i) => [x, ys[i] - es[i], ys[i] + es[i]]), encode: {x: 0, y: [1, 2]},
    renderItem: (p, api) => {
      const x = api.value(0);
      const a = api.coord([x, api.value(1)]), b = api.coord([x, api.value(2)]);
      const c = api.visual('color');
      return {type: 'group', children: [
        {type: 'line', shape: {x1: a[0], y1: a[1], x2: b[0], y2: b[1]}, style: {stroke: c, lineWidth: 2}},
        {type: 'line', shape: {x1: a[0] - 3.5, y1: a[1], x2: a[0] + 3.5, y2: a[1]}, style: {stroke: c, lineWidth: 2.5}},
        {type: 'line', shape: {x1: b[0] - 3.5, y1: b[1], x2: b[0] + 3.5, y2: b[1]}, style: {stroke: c, lineWidth: 2.5}}
      ]};
    }};
}
function bandMatrix(profile) {
  const n = profile.length, out = [];
  for (let i = 0; i < n; i++) {
    let s = 0;
    for (let j = 0; j < n; j++) s += profile[Math.abs(i - j)];
    for (let j = 0; j < n; j++) out.push([j, i, profile[Math.abs(i - j)] / s]);
  }
  return out;
}
function txt(x, y, text, font, align, extra) {
  gfx.push(Object.assign({type: 'text', x: x, y: y, z: 50, silent: true,
    style: {text: text, font: font, fill: '#000', align: align || 'left', verticalAlign: 'middle'}}, extra || {}));
}
function vtxt(x, y, text, font, lh) {
  gfx.push({type: 'text', x: x, y: y, rotation: Math.PI / 2, z: 50, silent: true,
    style: {text: text, font: font, fill: '#000', align: 'center', verticalAlign: 'middle', lineHeight: lh}});
}
function lineLegend(names, left, top, fs, ff, iw, lh, lw) {
  legends.push({data: names, left: left, top: top, orient: 'vertical', padding: 0, itemGap: 0, itemWidth: iw, itemHeight: 8,
    selectedMode: false, lineStyle: {width: lw}, itemStyle: {opacity: 0, borderWidth: 0},
    textStyle: {color: '#000', fontSize: fs, fontFamily: ff, lineHeight: lh}});
}

// ================= PANELS =================
// a
const GA = addGrid(69, 86, 315, 261,
  valAxis({min: 0, max: 7, interval: 1, fs: 18, name: 'reversal point in half of data', gap: 24, margin: 5}),
  valAxis({min: 0, max: 7, interval: 1, fs: 18, name: 'reversal point in other half of data', gap: 22, margin: 5}));
series.push(scatter(GA, aPoints, {size: 11, color: PINK}));
series.push(seg(GA, aIdentity, 'y=x', [2.5, 5], 2.5));
lineLegend(['y=x'], 255, 303, 18, FA, 33, 18, 2.5);

// b
const GB = addGrid(507, 87, 272, 260,
  valAxis({min: 0, max: 1, interval: 0.2, fs: 18, name: 'estimated asymmetry', gap: 24, margin: 5}),
  valAxis({min: 0, max: 7, interval: 1, fs: 18, name: 'estimated reversal point', gap: 24, margin: 5}));
series.push(scatter(GB, bPoints, {size: 11, color: BLUE, hollow: true, bw: 2.2}));

// c
const GC = addGrid(946, 53, 143, 253,
  valAxis({min: 0.24, max: 2.84, cv: [1, 2], tick: false, lw: 3.5, fs: 16, rotate: 25, margin: 10,
    fmt: v => cModels[Math.round(v) - 1] || '', name: 'model', gap: 78}),
  valAxis({min: 0.5, max: 0.765, cv: cTicks, lw: 3, tw: 2, tl: 6, fs: 17, margin: 3}));
vtxt(880, 189, 'proportion of held-out\ntrials correctly predicted', '16px ' + FA, 16);
series.push({type: 'custom', xAxisIndex: GC, yAxisIndex: GC, silent: true, z: 3,
  data: cMeans.map((m, i) => [i + 1, m, cErr[i]]), encode: {x: 0, y: 1},
  renderItem: (p, api) => {
    const x = api.value(0), y = api.value(1), e = api.value(2);
    const tl = api.coord([x - 0.43, y]), br = api.coord([x + 0.43, 0.5]);
    const e0 = api.coord([x, y - e]), e1 = api.coord([x, y + e]);
    return {type: 'group', children: [
      {type: 'rect', shape: {x: tl[0], y: tl[1], width: br[0] - tl[0], height: br[1] - tl[1]}, style: {fill: '#cccccc', stroke: '#000', lineWidth: 5}},
      {type: 'line', shape: {x1: e0[0], y1: e0[1], x2: e1[0], y2: e1[1]}, style: {stroke: '#000', lineWidth: 8}}
    ]};
  }});

// d
const GD = addGrid(73, 507, 265, 221,
  valAxis({min: 1, max: 7, interval: 1, fs: 16.5, name: 'Reward magnitude', gap: 22, margin: 5}),
  valAxis({min: -0.08, max: 0.053, cv: dTicks, fs: 16.5, name: 'Baseline-subtracted response', gap: 55, margin: 5}));
dMeans.forEach((ys, i) => {
  series.push({type: 'line', xAxisIndex: GD, yAxisIndex: GD, data: dRewards.map((x, k) => [x, ys[k]]), symbol: 'none', silent: true, z: 3,
    lineStyle: {color: dColors[i], width: 1.8}});
  series.push(errSeries(GD, dRewards, ys, dErrs[i], dColors[i]));
});
txt(202, 663, 'blue=low baseline', '16px ' + FA);
txt(202, 681, 'red=high baseline', '16px ' + FA);

// e
const GE = addGrid(400, 511, 220, 217,
  valAxis({min: -0.2, max: 1.02, cv: eXTicks, fs: 15, nfs: 16, name: 'Prestimulus baseline firing', gap: 27}),
  valAxis({min: 0, max: 8, interval: 1, fs: 15, nfs: 16, name: 'Estimated reversal point', gap: 25, margin: 5}));
series.push(scatter(GE, ePoints, {size: 8.5, color: BLUE, hollow: true, bw: 2.4}));

// f
const GF = addGrid(678, 527, 259, 201,
  valAxis({min: 0, max: 8, interval: 2, fs: 15, nfs: 16, name: 'Reversal point in half of data', gap: 27}),
  valAxis({min: 0, max: 8, interval: 1, fs: 15, nfs: 16, name: 'Reversal point in other half of data', gap: 26, margin: 5}));
series.push(scatter(GF, fPoints, {size: 7, color: PINK}));
series.push(seg(GF, fRegression, 'regression line', 'solid', 1.5));
series.push(seg(GF, fIdentity, 'identity', [3, 5], 1.5));
lineLegend(['regression line', 'identity'], 691, 542, 15, FA, 28, 17, 1.5);
txt(830, 663, 'p=2.0989e-68', '15px ' + FA);

// g
const GG = addGrid(1004, 526, 263, 201,
  valAxis({min: 0, max: 8, cv: gRewards, tick: false, lw: 1.5, fs: 15, nfs: 16, name: 'Reward magnitude', gap: 27}),
  valAxis({min: 0, max: 0.6, interval: 0.1, line: false, tick: false, fs: 15, nfs: 16, name: 'Fraction of cells', gap: 36, margin: 5}));
series.push(barSeries(GG, 'significantly positive', gRewards, gPositive, -0.13, 0.12, MBLUE));
series.push(barSeries(GG, 'significantly negative', gRewards, gNegative, 0.13, 0.12, MORANGE));
series.push(seg(GG, gThreshold, '', [22, 14], 3));
legends.push({data: ['significantly positive', 'significantly negative'], left: 1066, top: 491, orient: 'vertical', padding: 0, itemGap: 0,
  itemWidth: 28, itemHeight: 9, icon: 'rect', selectedMode: false, textStyle: {color: '#000', fontSize: 15, fontFamily: FA, lineHeight: 18}});

// h
const GH = addGrid(1331, 512, 230, 215,
  valAxis({min: -0.26, max: 2.47, cv: [0, 1, 2], fs: 15, nfs: 16, name: 'Estimated asymmetry', gap: 24, npad: [0, 0, 0, 26]}),
  valAxis({min: 0, max: 7, cv: [0, 2, 4, 6], fs: 15, nfs: 16, name: 'Estimated reversal point', gap: 28, margin: 5}));
series.push(scatter(GH, hPoints, {size: 8, color: BLUE, hollow: true, bw: 2.4}));
txt(1453, 560, 'p=2.4257e-07', '15px ' + FA);

// j heatmaps
function jPanel(left, profile, colors) {
  const cats = profile.map((_, i) => String(i));
  const gi = addGrid(left, 893, 153, 154, catAxis({data: cats, show: false}), catAxis({data: cats, show: false, inverse: true}));
  const data = bandMatrix(profile);
  const vals = data.map(d => d[2]);
  const si = series.length;
  series.push({type: 'heatmap', xAxisIndex: gi, yAxisIndex: gi, data: data, silent: true, itemStyle: {borderWidth: 0}});
  visualMaps.push({type: 'continuous', show: false, seriesIndex: si, dimension: 2, min: Math.min.apply(null, vals), max: Math.max.apply(null, vals), inRange: {color: colors}});
}
jPanel(402, jBluesProfile, BLUES);
jPanel(565, jRedsProfile, REDS);
jPanel(729, jGreensProfile, GREENS);

// k
const kColors = ['#1f77b4', '#d62728', '#2ca02c'];
const fmt1 = v => v.toFixed(1);
const GK1 = addGrid(972, 879, 261, 160,
  valAxis({min: -1, max: 2, interval: 0.5, line: false, outside: true, tl: 3, tw: 1, fs: 9, ff: FK, fmt: fmt1, margin: 3, nfs: 13, name: 'Value Estimate', gap: 17}),
  valAxis({min: 0, max: 0.8, interval: 0.1, line: false, outside: true, tl: 3, tw: 1, fs: 9, ff: FK, fmt: fmt1, margin: 3, nfs: 13, name: 'Probability', gap: 22}),
  {show: true, borderColor: '#000', borderWidth: 1.3, backgroundColor: 'transparent'});
const GK2 = addGrid(1291, 879, 262, 160,
  valAxis({min: 0, max: 1, interval: 0.2, line: false, outside: true, tl: 3, tw: 1, fs: 9, ff: FK, fmt: fmt1, margin: 3, nfs: 14, nff: FS, name: 'α⁺/(α⁺ + α⁻)', gap: 16}),
  valAxis({min: -0.2, max: 1.2, interval: 0.2, line: false, outside: true, tl: 3, tw: 1, fs: 9, ff: FK, fmt: fmt1, margin: 3, nfs: 13, name: 'Value Estimate', gap: 26}),
  {show: true, borderColor: '#000', borderWidth: 1.3, backgroundColor: 'transparent'});
[k1Blue, k1Red, k1Green].forEach((d, i) => {
  series.push({type: 'line', name: kSigmaNames[i], xAxisIndex: GK1, yAxisIndex: GK1, data: d, smooth: 0.4, symbol: 'none', silent: true, z: 3 + i,
    lineStyle: {color: kColors[i], width: 6}, itemStyle: {color: kColors[i]}});
});
[k2Blue, k2Red, k2Green].forEach((d, i) => {
  series.push({type: 'line', name: kSigmaNames[i], xAxisIndex: GK2, yAxisIndex: GK2, data: d, smooth: 0.4, symbol: 'none', silent: true, z: 3 + i,
    lineStyle: {color: kColors[i], width: 6}, itemStyle: {color: kColors[i]}});
});
legends.push({data: kSigmaNames, left: 1299, top: 883, orient: 'vertical', padding: [5, 8, 5, 8], itemGap: 6, itemWidth: 25, itemHeight: 8,
  borderColor: '#000', borderWidth: 1.2, backgroundColor: '#fff', selectedMode: false, lineStyle: {width: 6}, itemStyle: {opacity: 0, borderWidth: 0},
  textStyle: {color: '#000', fontSize: 13, fontFamily: FS, lineHeight: 15}});

// l heatmap + colorbar
const lRows = lCol1.map((_, i) => String(i + 1));
const every10 = (idx) => (idx + 1) % 10 === 0;
const GL = addGrid(59, 1110, 279, 245,
  catAxis({data: lRewards, fs: 14, name: 'Reward magnitude', nfs: 14, gap: 16, margin: 4, interval: 0}),
  catAxis({data: lRows, inverse: true, fs: 14, name: '', margin: 4, interval: every10, tick: true}));
vtxt(20, 1232, 'Cell index, sorted by a⁺/(a⁺+a⁻)', '13px ' + FA, 14);
const lData = [];
lColumns.forEach((col, c) => col.forEach((v, r) => lData.push([c, r, v])));
const lSeriesIdx = series.length;
series.push({type: 'heatmap', xAxisIndex: GL, yAxisIndex: GL, data: lData, silent: true, itemStyle: {borderWidth: 0}});
visualMaps.push({type: 'continuous', show: true, seriesIndex: lSeriesIdx, dimension: 2, min: lRange[0], max: lRange[1], calculable: false,
  inRange: {color: JET}, left: 339, top: 1105, itemWidth: 17, itemHeight: 245, orient: 'vertical', padding: 5, hoverLink: false});
const GLC = addGrid(344, 1110, 17, 245,
  valAxis({show: false, min: 0, max: 1}),
  valAxis({pos: 'right', min: lRange[0], max: lRange[1], cv: lBarTicks, line: false, tl: 3, tw: 1, fs: 14, ff: FN, margin: 3}));
gfx.push({type: 'rect', z: 60, silent: true, shape: {x: 59, y: 1110, width: 279, height: 245}, style: {fill: null, stroke: '#444', lineWidth: 2}});
gfx.push({type: 'rect', z: 60, silent: true, shape: {x: 344, y: 1110, width: 17, height: 245}, style: {fill: null, stroke: '#444', lineWidth: 1.5}});

// m
const GM = addGrid(465, 1105, 311, 245,
  valAxis({min: 0, max: 8, interval: 1, lw: 2, fs: 14, ff: FN, nfs: 13.5, name: 'Reversal point in half of data', gap: 20, margin: 4}),
  valAxis({min: 0, max: 8, interval: 1, lw: 2, fs: 14, ff: FN, nfs: 13.5, name: 'Reversal point in other half of data', gap: 24, margin: 4}));
series.push(scatter(GM, mPoints, {size: 7, color: PINK}));
series.push(seg(GM, mRegression, 'regression line ', 'solid', 2.5));
series.push(seg(GM, mIdentity, 'identity ', [2.5, 4], 2.5));
lineLegend(['regression line ', 'identity '], 525, 1127.5, 13.5, FN, 28, 11, 3.5);
txt(620, 1290, 'p=8.9232e-28', '13.5px ' + FN);

// n
const GN = addGrid(858, 1107, 309, 245,
  valAxis({min: 0, max: 8, cv: nRewards, tick: false, lw: 3, fs: 14, ff: FN, nfs: 13.5, name: 'Reward magnitude', gap: 18, margin: 4}),
  valAxis({min: 0, max: 0.8, interval: 0.1, lw: 2.5, tw: 1.5, fs: 14, ff: FN, nfs: 13.5, name: 'Fraction of cells', gap: 33, margin: 4}));
series.push(barSeries(GN, 'significantly positive ', nRewards, nPositive, -0.14, 0.13, MBLUE));
series.push(barSeries(GN, 'significantly negative ', nRewards, nNegative, 0.13, 0.13, MORANGE));
series.push(seg(GN, nThreshold, '', [25, 7], 3));
legends.push({data: ['significantly positive ', 'significantly negative '], left: 967, top: 1104.5, orient: 'vertical', padding: 0, itemGap: 0,
  itemWidth: 28, itemHeight: 9, icon: 'rect', selectedMode: false, textStyle: {color: '#000', fontSize: 13.5, fontFamily: FN, lineHeight: 11}});

// o
const GO = addGrid(1235, 1106, 310, 246,
  valAxis({min: -0.2, max: 1.2, interval: 0.2, lw: 2, fs: 14, ff: FN, nfs: 13.5, name: 'Estimated asymmetry', gap: 22, margin: 4}),
  valAxis({min: 0, max: 7, interval: 1, lw: 2, fs: 14, ff: FN, nfs: 13.5, name: 'Estimated reversal point', gap: 22, margin: 4}));
series.push(scatter(GO, oPoints, {size: 8, color: '#000', hollow: true, bw: 1.8}));
txt(1254, 1300, 'p=0.13266', '13.5px ' + FN);

// p
const GP = addGrid(81, 1491, 321, 255,
  valAxis({min: 0, max: 7, interval: 1, lw: 2.5, fs: 20, nfs: 19, name: 'reversal point in half of data', gap: 32, margin: 4}),
  valAxis({min: 0, max: 7, interval: 1, lw: 2.5, fs: 20, nfs: 19, name: 'reversal point in other half of data', gap: 23, margin: 5}));
series.push(scatter(GP, pPoints, {size: 10, color: PINK}));
series.push(seg(GP, pRegression, 'regression line  ', 'solid', 2.5));
series.push(seg(GP, pIdentity, 'identity  ', [2.5, 5], 2.5));
lineLegend(['regression line  ', 'identity  '], 246, 1695.5, 20, FA, 37, 19, 3);
txt(132, 1535, 'p=1.7833e-55', '20px ' + FA);

// q
const GQ = addGrid(587, 1491, 322, 254,
  valAxis({min: -0.54, max: 1.85, cv: qXTicks, lw: 2.5, fs: 20, nfs: 19, name: 'estimated asymmetry', gap: 36, margin: 6}),
  valAxis({min: 0, max: 7.45, cv: qYTicks, lw: 2.5, fs: 20, nfs: 19, name: 'estimated reversal point', gap: 32, margin: 5}));
series.push(scatter(GQ, qPoints, {size: 13, color: '#1a72c0', hollow: true, bw: 3}));
txt(795, 1588, 'p=0.11936', '20px ' + FA);

// ================= HEADINGS / LABELS / DIAGRAM =================
[41, 450, 834, 1454].forEach(y => gfx.push({type: 'rect', silent: true, shape: {x: 0, y: y - 2.5, width: 1564, height: 5}, style: {fill: '#9d9d9d'}}));
txt(11, 20, 'Model 1: RPE+noise', '35px ' + FA);
gfx.push({type: 'text', x: 11, y: 430, silent: true, style: {text: 'Model 3:  {s|σ}(RPE+bias)+noise', font: '35px ' + FA, fill: '#000', verticalAlign: 'middle',
  rich: {s: {font: 'italic 35px ' + FS, fill: '#000'}}}});
txt(11, 813, 'Model 5: "One-sided" distributional RL', '35px ' + FA);
txt(16, 1429, 'Model 6: Synaptic asymmetries', '35px ' + FA);
[['a',14,73],['b',467,75],['c',872,85],['d',5,493],['e',358,495],['f',664,492],['g',962,495],['h',1289,496],
 ['i',6,872],['i',376,872],['k',905,872],['l',10,1096],['m',403,1098],['n',807,1098],['o',1195,1100],['p',10,1485],['q',523,1485]]
  .forEach(l => txt(l[1], l[2], l[0], 'bold 32px ' + FA));

// panel i schematic (neural circuit diagram)
const iCx = [94, 155, 215, 276, 337];
const iCols = ['#0000ff', '#7f00ff', '#cc00ff', '#a0106a', '#ff0000'];
const bell = [];
for (let k = 0; k <= 40; k++) { const x = 192 + k * 4.1; bell.push([x, 1027 - 77 * Math.exp(-((x - 274) * (x - 274)) / (2 * 37 * 37))]); }
bell.push([356, 1027]); bell.push([192, 1027]);
gfx.push({type: 'polygon', silent: true, shape: {points: bell}, style: {fill: {type: 'linear', x: 0, y: 0, x2: 1, y2: 0,
  colorStops: [{offset: 0, color: '#6a00d0'}, {offset: 0.5, color: '#a0106a'}, {offset: 1, color: '#ff0020'}]}}});
const curve = (x1, y1, c1x, c1y, c2x, c2y, x2, y2, dash) => gfx.push({type: 'bezierCurve', silent: true,
  shape: {x1: x1, y1: y1, cpx1: c1x, cpy1: c1y, cpx2: c2x, cpy2: c2y, x2: x2, y2: y2},
  style: {stroke: '#000', lineWidth: 1.8, fill: null, lineDash: dash ? [6, 4] : null}});
curve(207, 908, 190, 940, 190, 975, 205, 997, true);
curve(213, 997, 205, 930, 222, 872, 263, 881, false);
curve(267, 907, 250, 935, 250, 970, 266, 996, true);
curve(285, 997, 303, 960, 300, 918, 286, 905, false);
curve(339, 997, 347, 925, 330, 868, 290, 880, false);
curve(329, 907, 312, 935, 312, 970, 329, 996, true);
gfx.push({type: 'line', silent: true, shape: {x1: 276, y1: 950, x2: 276, y2: 914}, style: {stroke: '#000', lineWidth: 1.8}});
gfx.push({type: 'polygon', silent: true, shape: {points: [[272, 916], [280, 916], [276, 907]]}, style: {fill: '#000'}});
iCx.forEach((x, i) => {
  gfx.push({type: 'circle', silent: true, z: 5, shape: {cx: x, cy: 892, r: 14}, style: {fill: iCols[i], stroke: '#000', lineWidth: 4.5}});
  gfx.push({type: 'circle', silent: true, z: 5, shape: {cx: x, cy: 1012, r: 14}, style: {fill: iCols[i], stroke: '#000', lineWidth: 4.5}});
});
[[232, 270], [281, 320]].forEach(s => {
  gfx.push({type: 'line', silent: true, shape: {x1: s[0], y1: 1033, x2: s[1], y2: 1033}, style: {stroke: '#000', lineWidth: 1.8}});
  gfx.push({type: 'line', silent: true, shape: {x1: s[0], y1: 1025, x2: s[0], y2: 1041}, style: {stroke: '#000', lineWidth: 1.8}});
  gfx.push({type: 'line', silent: true, shape: {x1: s[1], y1: 1025, x2: s[1], y2: 1041}, style: {stroke: '#000', lineWidth: 1.8}});
});
txt(250, 1049, 'σ', 'italic 30px ' + FS, 'center');
txt(46, 893, 'V', 'italic 36px ' + FS, 'center');
txt(46, 1012, 'δ', 'italic 36px ' + FS, 'center');

// ================= RENDER =================
const chart = echarts.init(document.getElementById('chart'), null, {renderer: 'canvas', width: 1569, height: 1800});
chart.setOption({
  animation: false,
  backgroundColor: '#ffffff',
  textStyle: {fontFamily: FA},
  grid: grids, xAxis: xAxes, yAxis: yAxes,
  visualMap: visualMaps, legend: legends,
  series: series,
  graphic: {elements: gfx}
});
</script>
</body>
</html>
